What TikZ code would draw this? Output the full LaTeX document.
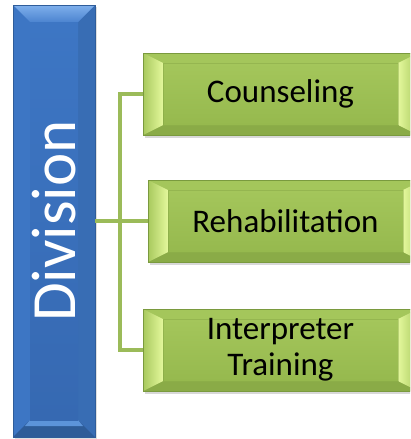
\documentclass[tikz,border=0pt]{standalone}
\usepackage{fontspec}
\setmainfont{Carlito}
\usetikzlibrary{calc,shadows}
\definecolor{gbase}{HTML}{9BBB59}
\definecolor{gtop}{HTML}{A4C65B}
\definecolor{gbot}{HTML}{96B94E}
\definecolor{gdark}{HTML}{8AAB47}
\definecolor{gedge}{HTML}{7A9A3E}
\definecolor{glight}{HTML}{E4F89C}
\definecolor{gmid}{HTML}{A8C95E}
\definecolor{bbase}{HTML}{3A70BE}
\definecolor{btopA}{HTML}{7FB0EC}
\definecolor{btopB}{HTML}{4C84D0}
\definecolor{bin1}{HTML}{3D76C4}
\definecolor{bin2}{HTML}{3669B2}
\definecolor{bdark}{HTML}{2E5C98}
\definecolor{blite}{HTML}{5C94DA}
\definecolor{bedge}{HTML}{2F5D9A}
\tikzset{
  conn/.style={draw=gbase, line width=4.5pt, line join=miter},
  greenbox/.style={minimum width=275pt, minimum height=82pt, inner sep=0pt,
    fill=gbase, draw=gedge, line width=0.6pt, align=center,
    font=\fontsize{33}{36}\selectfont,
    drop shadow={opacity=0.3, shadow xshift=2pt, shadow yshift=-3pt},
    path picture={
      \coordinate (gsw) at (path picture bounding box.south west);
      \coordinate (gne) at (path picture bounding box.north east);
      \coordinate (gnw) at (path picture bounding box.north west);
      \coordinate (gse) at (path picture bounding box.south east);
      \fill[gtop] (gnw) -- (gne) -- ($(gne)+(-20pt,-10pt)$) -- ($(gnw)+(20pt,-10pt)$) -- cycle;
      \fill[gdark] (gsw) -- (gse) -- ($(gse)+(-20pt,10pt)$) -- ($(gsw)+(20pt,10pt)$) -- cycle;
      \shade[left color=gmid, right color=glight] (gnw) -- (gsw) -- ($(gsw)+(20pt,10pt)$) -- ($(gnw)+(20pt,-10pt)$) -- cycle;
      \shade[left color=glight, right color=gmid] (gne) -- (gse) -- ($(gse)+(-20pt,10pt)$) -- ($(gne)+(-20pt,-10pt)$) -- cycle;
      \shade[top color=gtop, bottom color=gbot] ($(gsw)+(20pt,10pt)$) rectangle ($(gne)+(-20pt,-10pt)$);
      \draw[gedge, line width=0.4pt, opacity=0.35] ($(gsw)+(20pt,10pt)$) rectangle ($(gne)+(-20pt,-10pt)$);
    }},
  bluebox/.style={minimum width=82pt, minimum height=432pt, inner sep=0pt,
    fill=bbase, draw=bedge, line width=0.6pt,
    drop shadow={opacity=0.25, shadow xshift=2pt, shadow yshift=-2pt},
    path picture={
      \coordinate (bsw) at (path picture bounding box.south west);
      \coordinate (bne) at (path picture bounding box.north east);
      \coordinate (bnw) at (path picture bounding box.north west);
      \coordinate (bse) at (path picture bounding box.south east);
      \fill[bin1] (bnw) -- (bsw) -- ($(bsw)+(17pt,17pt)$) -- ($(bnw)+(17pt,-17pt)$) -- cycle;
      \fill[bin1!92!black] (bne) -- (bse) -- ($(bse)+(-17pt,17pt)$) -- ($(bne)+(-17pt,-17pt)$) -- cycle;
      \shade[top color=btopA, bottom color=btopB] (bnw) -- (bne) -- ($(bne)+(-17pt,-17pt)$) -- ($(bnw)+(17pt,-17pt)$) -- cycle;
      \fill[bdark] (bsw) -- (bse) -- ($(bse)+(-17pt,17pt)$) -- ($(bsw)+(17pt,17pt)$) -- cycle;
      \fill[blite] ($(bsw)+(12pt,11pt)$) -- ($(bse)+(-12pt,11pt)$) -- ($(bse)+(-17pt,17pt)$) -- ($(bsw)+(17pt,17pt)$) -- cycle;
      \shade[top color=bin1, bottom color=bin2] ($(bsw)+(17pt,17pt)$) rectangle ($(bne)+(-17pt,-17pt)$);
    }},
  divtext/.style={rotate=90, text=white, inner sep=0pt, font=\fontsize{63}{70}\selectfont}
}
\begin{document}
\begin{tikzpicture}[x=1pt,y=-1pt]
\useasboundingbox (0,0) rectangle (410,439);
\clip (0,0) rectangle (410,439);
\fill[white] (0,0) rectangle (410,439);
\node[bluebox] (div) at (54,221) {};
\node[divtext] (divlabel) at (div.center) {Division};
\node[greenbox] (cou) at (280.5,94) {Counseling};
\node[greenbox] (reh) at (285.5,221) {Rehabilitation};
\node[greenbox] (int) at (280.5,350) {Interpreter\\Training};
\coordinate (jt) at (120,94);
\coordinate (jb) at (120,350);
\coordinate (jm) at (120,221);
\draw[conn] (div.east) -- (reh.west);
\draw[conn] (cou.west) -- (jt) -- (jb) -- (int.west);
\end{tikzpicture}
\end{document}
